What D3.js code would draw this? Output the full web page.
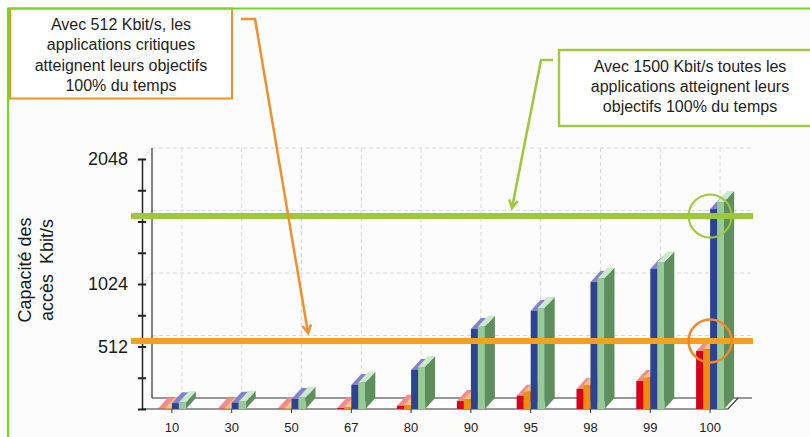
<!DOCTYPE html>
<html><head><meta charset="utf-8">
<script src="https://cdn.jsdelivr.net/npm/d3@7"></script>
<style>
html,body{margin:0;padding:0;background:#fff;}
svg{display:block;font-family:"Liberation Sans",Arial,sans-serif;}
</style></head>
<body>
<svg id="c" width="810" height="437"></svg>
<script>
const categories = ["10","30","50","67","80","90","95","98","99","100"];
const redValues    = [2, 2, 2, 8, 27, 65, 109, 164, 229, 475];
const orangeValues = [4, 4, 4, 16, 33, 82, 142, 197, 256, 491];
const blueValues   = [48, 52, 82, 197, 320, 655, 805, 1040, 1147, 1638];
const greenValues  = [56, 60, 92, 215, 345, 674, 827, 1070, 1200, 1695];
const yTickValues  = [0, 256, 512, 768, 1024, 1280, 1536, 1792, 2048];
const yTickLabels  = [512, 1024, 2048];
const gridValues   = [512, 1024, 1536, 2048];
const refLines     = [{value:512, color:"#f2a21e"}, {value:1536, color:"#9dc83a"}];
const yTitle       = ["Capacité des", "accès  Kbit/s"];
const noteLeft     = ["Avec 512 Kbit/s, les", "applications critiques", "atteignent leurs objectifs", "100% du temps"];
const noteRight    = ["Avec 1500 Kbit/s toutes les", "applications atteignent leurs", "objectifs 100% du temps"];

const series = [
  {values: redValues,    front:"#d6001c", top:"#f28c8c", side:"#9a0014"},
  {values: orangeValues, front:"#f08c12", top:"#f8c283", side:"#b86808"},
  {values: blueValues,   front:"#2c4392", top:"#8482cc", side:"#1c2b66"},
  {values: greenValues,  front:"#96cb95", top:"#cbe9cb", side:"#5d8e5c"}
];

const svg = d3.select("#c");
const W = 810, H = 437;
const DX = 10, DY = -11;      // depth offset
const x0 = 142, x1 = 740, yBase = 409, yTop = 159;
const barW = 7;

svg.append("rect").attr("width",W).attr("height",H).attr("fill","#fff");
svg.append("rect").attr("x",8).attr("y",8).attr("width",W).attr("height",H).attr("fill","#fcfcfc");

const x = d3.scaleBand().domain(categories).range([x0, x1]);
const y = d3.scaleLinear().domain([0, 2048]).range([yBase, yTop]);
const xc = c => x(c) + x.bandwidth()/2;

const g = svg.append("g");

// back wall grid
g.selectAll(".hg").data(gridValues).join("line")
  .attr("x1", x0+DX).attr("x2", x1+DX+2)
  .attr("y1", d=>y(d)+DY).attr("y2", d=>y(d)+DY)
  .attr("stroke","#d9d9d9").attr("stroke-dasharray","4,3");
g.selectAll(".dg").data(gridValues).join("line")
  .attr("x1", x0).attr("x2", x0+DX)
  .attr("y1", d=>y(d)).attr("y2", d=>y(d)+DY)
  .attr("stroke","#c8c8c8").attr("stroke-dasharray","2,2");
g.selectAll(".vg").data(categories).join("line")
  .attr("x1", d=>xc(d)+DX).attr("x2", d=>xc(d)+DX)
  .attr("y1", y(2048)+DY).attr("y2", yBase+DY)
  .attr("stroke","#d9d9d9").attr("stroke-dasharray","4,3");
// back wall vertical edge
g.append("line").attr("x1",x0+DX).attr("x2",x0+DX).attr("y1",y(2048)+DY).attr("y2",yBase+DY)
  .attr("stroke","#333").attr("stroke-width",1.2);

// floor
g.append("path")
  .attr("d", `M${x0},${yBase}L${x1-12},${yBase}L${x1-12+DX},${yBase+DY}L${x1+DX+2},${yBase+DY}M${x1-12+DX},${yBase+DY}L${x0+DX},${yBase+DY}Z`)
  .attr("fill","#fff").attr("stroke","#333").attr("stroke-width",1.2);

// y axis
const yAxis = d3.axisLeft(y).tickValues(yTickValues)
  .tickFormat(d => yTickLabels.includes(d) ? d : "").tickSize(4).tickSizeOuter(0);
const ya = g.append("g").attr("transform",`translate(${x0},0)`).call(yAxis);
ya.select(".domain").attr("stroke","#222").attr("stroke-width",1.5);
ya.selectAll(".tick line").attr("x1",-4).attr("x2",4).attr("stroke","#222").attr("stroke-width",2);
ya.selectAll(".tick text").attr("x",-14).attr("font-size",18).attr("fill","#1a1a1a")
  .attr("font-family","Liberation Sans, Arial, sans-serif");

// x axis
const xAxis = d3.axisBottom(x).tickSize(4).tickPadding(10).tickSizeOuter(0);
const xa = g.append("g").attr("transform",`translate(0,${yBase})`).call(xAxis);
xa.select(".domain").remove();
xa.selectAll(".tick line").attr("stroke","#333");
xa.selectAll(".tick text").attr("font-size",13).attr("fill","#222")
  .attr("font-family","Liberation Sans, Arial, sans-serif");

// bars (3D)
const bars = g.append("g");
categories.forEach((c, i) => {
  series.forEach((s, k) => {
    const bx = xc(c) - 2*barW + k*barW;
    const yt = y(s.values[i]);
    const b = bars.append("g");
    b.append("path").attr("d",`M${bx+barW},${yBase}L${bx+barW+DX},${yBase+DY}L${bx+barW+DX},${yt+DY}L${bx+barW},${yt}Z`).attr("fill",s.side);
    b.append("path").attr("d",`M${bx},${yt}L${bx+DX},${yt+DY}L${bx+barW+DX},${yt+DY}L${bx+barW},${yt}Z`).attr("fill",s.top);
    b.append("rect").attr("x",bx).attr("y",yt).attr("width",barW).attr("height",yBase-yt).attr("fill",s.front);
  });
});

// reference lines
refLines.forEach(r => {
  g.append("line").attr("x1",131).attr("x2",x1+13)
    .attr("y1", y(r.value)+DY/2).attr("y2", y(r.value)+DY/2)
    .attr("stroke", r.color).attr("stroke-width",6);
});
// circles
const last = categories[categories.length-1];
g.append("circle").attr("cx", xc(last)).attr("cy", y(1536)+DY/2).attr("r",21.5)
  .attr("fill","none").attr("stroke","#9dc83a").attr("stroke-width",2);
g.append("circle").attr("cx", xc(last)).attr("cy", y(512)+DY/2).attr("r",21.5)
  .attr("fill","none").attr("stroke","#f0872a").attr("stroke-width",2.5);

// y title
const yt = svg.append("text").attr("transform","translate(36,270) rotate(-90)")
  .attr("text-anchor","middle").attr("font-size",18).attr("fill","#1a1a1a");
yTitle.forEach((t,i)=> yt.append("tspan").attr("x",0).attr("y", (i-0.5)*22 + 6).attr("xml:space","preserve").text(t));

// note boxes
svg.append("rect").attr("x",10).attr("y",8.5).attr("width",222).attr("height",90)
  .attr("fill","#fff").attr("stroke","#f0902a").attr("stroke-width",2);
noteLeft.forEach((t,i)=> svg.append("text").attr("x",121).attr("y",29.5+i*20.5)
  .attr("text-anchor","middle").attr("font-size",16).attr("fill","#1e1e1e").text(t));

svg.append("rect").attr("x",559).attr("y",50).attr("width",262).attr("height",76)
  .attr("fill","#fff").attr("stroke","#a2c843").attr("stroke-width",2.5);
noteRight.forEach((t,i)=> svg.append("text").attr("x",690).attr("y",71.5+i*20)
  .attr("text-anchor","middle").attr("font-size",16).attr("fill","#1e1e1e").text(t));

// frame
svg.append("path").attr("d",`M8,${H}L8,8.5L${W},8.5`).attr("fill","none")
  .attr("stroke","#78d81e").attr("stroke-width",2.2);

// arrows
function arrow(pts, color){
  svg.append("path").attr("d", d3.line()(pts)).attr("fill","none")
    .attr("stroke",color).attr("stroke-width",2.5).attr("stroke-linejoin","miter");
  const [a,b] = [pts[pts.length-2], pts[pts.length-1]];
  const ang = Math.atan2(b[1]-a[1], b[0]-a[0]);
  const L = 9, sp = 0.5;
  const p1 = [b[0]-L*Math.cos(ang-sp), b[1]-L*Math.sin(ang-sp)];
  const p2 = [b[0]-L*Math.cos(ang+sp), b[1]-L*Math.sin(ang+sp)];
  svg.append("path").attr("d", d3.line()([p1,b,p2])).attr("fill","none")
    .attr("stroke",color).attr("stroke-width",2.5);
}
arrow([[241,19],[255,19],[308,333]], "#f0902a");
arrow([[553,60],[541,60],[512,208]], "#9dc83a");
</script>
</body></html>
